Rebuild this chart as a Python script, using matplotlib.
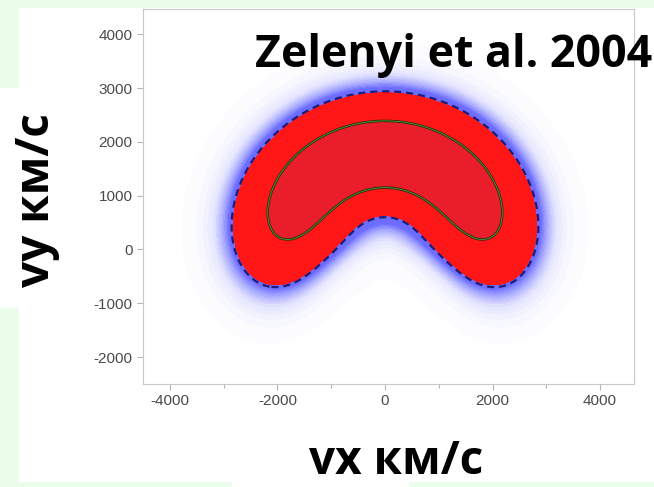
import numpy as np
import matplotlib
matplotlib.use("Agg")
import matplotlib.pyplot as plt
from matplotlib.patches import Rectangle
from matplotlib.colors import LinearSegmentedColormap

plt.rcParams['axes.unicode_minus'] = False

# crescent-shaped velocity distribution, parameters (km/s)
ring_center_vy = -130.0     # centre of the ring
ring_radius = 1900.0        # radius of the ring midline
ring_width = 745.0          # radial gaussian width
ang_scale = 1.52            # angular fall-off (rad, from +vy)
ang_power = 4.5
level_dashed = 0.085
level_solid = 0.5
halo_sigma = 480.0

xlim = (-4500, 4630)
ylim = (-2500, 4470)
xticks = [-4000, -2000, 0, 2000, 4000]
yticks = [-2000, -1000, 0, 1000, 2000, 3000, 4000]

vx = np.linspace(xlim[0], xlim[1], 460)
vy = np.linspace(ylim[0], ylim[1], 360)
X, Y = np.meshgrid(vx, vy)
r = np.hypot(X, Y - ring_center_vy)
th = np.abs(np.arctan2(X, Y - ring_center_vy))
core = np.exp(-((r - ring_radius) / ring_width) ** 2 - (th / ang_scale) ** ang_power)


def blur(a, sx, sy):
    def kern(s):
        n = int(3 * s)
        k = np.exp(-0.5 * (np.arange(-n, n + 1) / s) ** 2)
        return k / k.sum()
    kx, ky = kern(sx), kern(sy)
    out = np.apply_along_axis(lambda m: np.convolve(m, kx, mode='same'), 1, a)
    out = np.apply_along_axis(lambda m: np.convolve(m, ky, mode='same'), 0, out)
    return out


halo = core + 0.3 * blur(core, halo_sigma / (vx[1] - vx[0]), halo_sigma / (vy[1] - vy[0]))

fig = plt.figure(figsize=(6.54, 4.87), dpi=100)
fig.patch.set_facecolor('#eafdea')
fig.add_artist(Rectangle((19 / 654, 1 - 481 / 487), 635 / 654, 473 / 487,
                         transform=fig.transFigure, color='white', zorder=-2))
fig.add_artist(Rectangle((0, 1 - 307 / 487), 60 / 654, 219 / 487,
                         transform=fig.transFigure, color='white', zorder=-2))
fig.add_artist(Rectangle((232 / 654, 0), 176 / 654, 10 / 487,
                         transform=fig.transFigure, color='white', zorder=-2))

ax = fig.add_axes([143 / 654, 1 - 384 / 487, 491 / 654, 375 / 487])
ax.set_facecolor('white')

haze = LinearSegmentedColormap.from_list('haze', ['#ffffff', '#e4e4ff', '#a8a8ff', '#6c6cff'])
ax.contourf(X, Y, halo, levels=np.linspace(0.003, 0.11, 16), cmap=haze, extend='max')
ax.contourf(X, Y, core, levels=[level_dashed * 1.12, level_solid, 10],
            colors=['#ff1717', '#ea1d2a'])
ax.contour(X, Y, core, levels=[level_dashed], colors='#1d1d78', linewidths=1.6,
           linestyles=[(0, (3.2, 2.2))])
ax.contour(X, Y, core, levels=[level_solid], colors='#2e2a0c', linewidths=1.8)
ax.contour(X, Y, core, levels=[level_solid], colors='#45b845', linewidths=0.5)

ax.set_xlim(xlim)
ax.set_ylim(ylim)
ax.set_xticks(xticks)
ax.set_xticks(range(-4000, 4001, 1000), minor=True)
ax.set_yticks(yticks)
ax.tick_params(which='both', color='#b5b5b5', width=0.8, labelcolor='#4a4a4a',
               labelsize=11, length=4)
ax.tick_params(which='minor', length=3)
for lab in ax.get_xticklabels() + ax.get_yticklabels():
    lab.set_family('Liberation Sans')
for s in ax.spines.values():
    s.set_color('#c8c8c8')
    s.set_linewidth(0.8)

fig.text(255 / 654, 1 - 67 / 487, 'Zelenyi et al. 2004', family='Open Sans',
         weight='bold', fontsize=32.2, ha='left', va='baseline', color='black')
fig.text(396 / 654, 1 - 462 / 487, 'vx км/с', family='Open Sans', weight='bold',
         fontsize=33, ha='center', va='center', color='black')
fig.text(36 / 654, 1 - 200 / 487, 'vy км/с', family='Open Sans', weight='bold',
         fontsize=33, ha='center', va='center', rotation=90, color='black')

fig.savefig('out.png', dpi=100, facecolor=fig.get_facecolor())
